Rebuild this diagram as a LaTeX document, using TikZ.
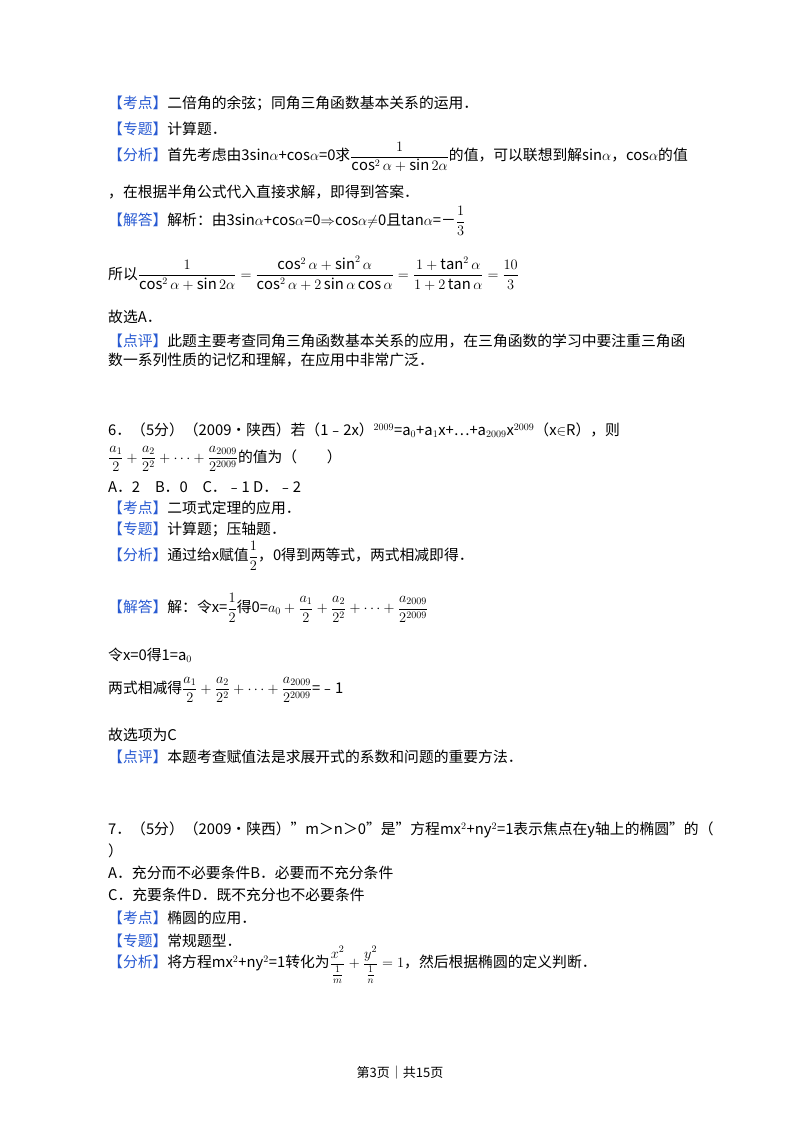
\documentclass[tikz,border=0pt]{standalone}
\usepackage{fontspec}
\usepackage{amsmath,amssymb}
\setmainfont{Noto Sans CJK SC}
\definecolor{lab}{RGB}{40,90,210}
\newcommand{\kd}[1]{\textcolor{lab}{【#1】}}
\begin{document}
\begin{tikzpicture}[x=1pt,y=-1pt,every node/.style={anchor=west,inner sep=0pt,font=\fontsize{14.8}{17}\selectfont}]
\useasboundingbox (0,0) rectangle (800,1132);
\fill[white] (0,0) rectangle (800,1132);
\node (l1) at (108,103) {\kd{考点}二倍角的余弦；同角三角函数基本关系的运用．};
\node (l2) at (108,129) {\kd{专题}计算题．};
\node (l3) at (108,157) {\kd{分析}首先考虑由3sin$\alpha$+cos$\alpha$=0求$\dfrac{1}{\cos^2\alpha+\sin2\alpha}$的值，可以联想到解sin$\alpha$，cos$\alpha$的值};
\node (l4) at (108,192) {，在根据半角公式代入直接求解，即得到答案．};
\node (l5) at (108,221) {\kd{解答}解析：由3sin$\alpha$+cos$\alpha$=0$\Rightarrow$cos$\alpha$$\neq$0且tan$\alpha$=－$\dfrac{1}{3}$};
\node (l6) at (108,273) {所以$\dfrac{1}{\cos^2\alpha+\sin2\alpha}=\dfrac{\cos^2\alpha+\sin^2\alpha}{\cos^2\alpha+2\sin\alpha\cos\alpha}=\dfrac{1+\tan^2\alpha}{1+2\tan\alpha}=\dfrac{10}{3}$};
\node (l7) at (108,317) {故选A．};
\node (l8) at (108,341) {\kd{点评}此题主要考查同角三角函数基本关系的应用，在三角函数的学习中要注重三角函};
\node (l9) at (108,360) {数一系列性质的记忆和理解，在应用中非常广泛．};
\node (q6) at (108,430) {6．（5分）（2009•陕西）若（1﹣2x）$^{2009}$=a$_0$+a$_1$x+…+a$_{2009}$x$^{2009}$（x$\in$R），则};
\node (q6b) at (108,459) {$\dfrac{a_1}{2}+\dfrac{a_2}{2^2}+\cdots+\dfrac{a_{2009}}{2^{2009}}$的值为（\quad\quad）};
\node (q6c) at (108,487) {A．2\quad B．0\quad C．﹣1\ D．﹣2};
\node (k6) at (108,508) {\kd{考点}二项式定理的应用．};
\node (z6) at (108,529) {\kd{专题}计算题；压轴题．};
\node (f6) at (108,556) {\kd{分析}通过给x赋值$\dfrac{1}{2}$，0得到两等式，两式相减即得．};
\node (j6) at (108,608) {\kd{解答}解：令x=$\dfrac{1}{2}$得0=$a_0+\dfrac{a_1}{2}+\dfrac{a_2}{2^2}+\cdots+\dfrac{a_{2009}}{2^{2009}}$};
\node (j6b) at (108,655) {令x=0得1=a$_0$};
\node (j6c) at (108,690) {两式相减得$\dfrac{a_1}{2}+\dfrac{a_2}{2^2}+\cdots+\dfrac{a_{2009}}{2^{2009}}$=﹣1};
\node (j6d) at (108,735) {故选项为C};
\node (d6) at (108,757) {\kd{点评}本题考查赋值法是求展开式的系数和问题的重要方法．};
\node (q7) at (108,830) {7．（5分）（2009•陕西）"m＞n＞0"是"方程mx$^2$+ny$^2$=1表示焦点在y轴上的椭圆"的（};
\node (q7b) at (108,851) {）};
\node (q7c) at (108,873) {A．充分而不必要条件B．必要而不充分条件};
\node (q7d) at (108,895) {C．充要条件D．既不充分也不必要条件};
\node (k7) at (108,918) {\kd{考点}椭圆的应用．};
\node (z7) at (108,941) {\kd{专题}常规题型．};
\node (f7) at (108,965) {\kd{分析}将方程mx$^2$+ny$^2$=1转化为$\dfrac{x^2}{\frac{1}{m}}+\dfrac{y^2}{\frac{1}{n}}=1$，然后根据椭圆的定义判断．};
\node[anchor=center,font=\fontsize{13}{15}\selectfont] (ft) at (400,1073) {第3页｜共15页};
\end{tikzpicture}
\end{document}
